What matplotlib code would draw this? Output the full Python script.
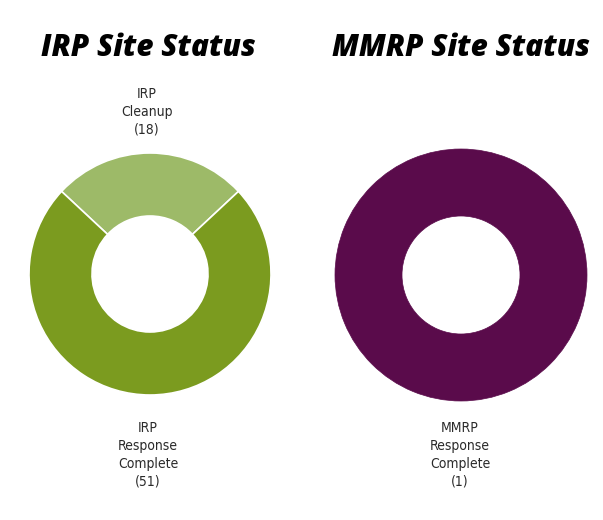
import matplotlib
matplotlib.use("Agg")
import matplotlib.pyplot as plt

# data
irp_labels = ['IRP\nCleanup\n(18)', 'IRP\nResponse\nComplete\n(51)']
irp_values = [18, 51]
mmrp_labels = ['MMRP\nResponse\nComplete\n(1)']
mmrp_values = [1]

irp_colors = ['#9dba68', '#7b9b1f']
mmrp_colors = ['#5a0b4b']

W, H = 603, 520


def main():
    fig = plt.figure(figsize=(W / 100, H / 100), dpi=100)
    fig.patch.set_facecolor('white')
    ax = fig.add_axes([0, 0, 1, 1])

    lab_font = ['DejaVu Sans']
    title_font = ['Open Sans', 'DejaVu Sans']

    # IRP donut, cleanup slice centred at the top
    span = irp_values[0] / sum(irp_values) * 360
    ax.pie(irp_values, colors=irp_colors, startangle=90 - span / 2,
           center=(150, H - 274), radius=121, frame=True,
           wedgeprops=dict(width=63, edgecolor='white', linewidth=1.2))

    # MMRP donut
    ax.pie(mmrp_values, colors=mmrp_colors, startangle=90,
           center=(461, H - 275), radius=126, frame=True,
           wedgeprops=dict(width=67, edgecolor=mmrp_colors[0], linewidth=0.5))

    ax.set_xlim(0, W)
    ax.set_ylim(0, H)
    ax.set_aspect('equal')
    ax.axis('off')

    # titles
    ax.text(148, H - 48, 'IRP Site Status', ha='center', va='center',
            fontsize=21.3, fontweight=800, fontstyle='italic', family=title_font)
    ax.text(461, H - 48, 'MMRP Site Status', ha='center', va='center',
            fontsize=21.3, fontweight=800, fontstyle='italic', family=title_font)

    # slice labels
    kw = dict(ha='center', va='center', fontsize=10, family=lab_font,
              fontstretch='condensed', linespacing=1.35, color='#2a2a2a')
    ax.text(147, H - 112, irp_labels[0], **kw)
    ax.text(148, H - 455, irp_labels[1], **kw)
    ax.text(460, H - 455, mmrp_labels[0], **kw)

    fig.savefig('out.png', dpi=100, facecolor='white')


if __name__ == '__main__':
    main()
